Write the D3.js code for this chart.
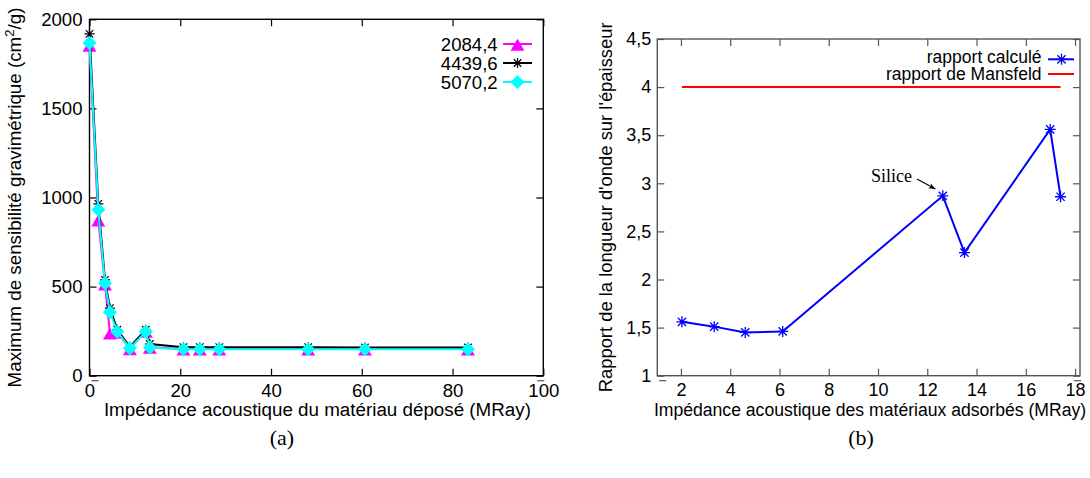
<!DOCTYPE html>
<html><head><meta charset="utf-8">
<script src="https://cdn.jsdelivr.net/npm/d3@7"></script>
<style>
html,body{margin:0;padding:0;background:#fff;}
svg{display:block;}
</style></head>
<body>
<svg id="chart" width="1090" height="478"></svg>
<script>
// ---------- Data: chart (a) ----------
const impedanceA = [0, 1.94, 3.41, 4.5, 6.12, 8.9, 12.4, 13.3, 20.7, 24.3, 28.6, 48.2, 60.7, 83.4];
const series20844 = [1855, 875, 515, 240, 245, 152, 250, 160, 150, 150, 150, 150, 150, 150];
const series44396 = [1918, 964, 538, 379, 258, 162, 258, 178, 160, 160, 160, 160, 158, 158];
const series50702 = [1867, 931, 519, 356, 247, 154, 247, 158, 148, 148, 148, 148, 148, 148];
const seriesNamesA = ["2084,4", "4439,6", "5070,2"];
const xTicksA = [0, 20, 40, 60, 80, 100];
const yTicksA = [0, 500, 1000, 1500, 2000];

// ---------- Data: chart (b) ----------
const impedanceB = [2.04, 3.35, 4.61, 6.13, 12.63, 13.51, 16.99, 17.41];
const rapportCalcule = [1.56, 1.51, 1.45, 1.46, 2.87, 2.28, 3.56, 2.86];
const mansfeldX = [2.04, 17.41];
const mansfeldY = [4, 4];
const seriesNamesB = ["rapport calculé", "rapport de Mansfeld"];
const xTicksB = [2, 4, 6, 8, 10, 12, 14, 16, 18];
const yTicksB = [1, 1.5, 2, 2.5, 3, 3.5, 4, 4.5];
const silice = {label: "Silice", tx: 11.38, ty: 3.01, ax0: 11.58, ay0: 3.045, ax1: 12.33, ay1: 2.94};

const fmtComma = d => String(d).replace(".", ",");
const svg = d3.select("#chart");
const SANS = '"Liberation Sans",Arial,sans-serif';
const SERIF = '"Liberation Serif","DejaVu Serif",serif';

// ---------- marker helpers ----------
function triangle(g, x, y, color){
  const s = 7;
  g.append("path").attr("d", `M${x},${y-s*0.75}L${x+s},${y+s*0.95}L${x-s},${y+s*0.95}Z`).attr("fill", color);
}
function diamond(g, x, y, color){
  const s = 7;
  g.append("path").attr("d", `M${x},${y-s}L${x+s},${y}L${x},${y+s}L${x-s},${y}Z`).attr("fill", color);
}
function star(g, x, y, color, s, w){
  const p = `M${x-s},${y}L${x+s},${y}M${x},${y-s}L${x},${y+s}M${x-s*0.75},${y-s*0.75}L${x+s*0.75},${y+s*0.75}M${x-s*0.75},${y+s*0.75}L${x+s*0.75},${y-s*0.75}`;
  g.append("path").attr("d", p).attr("stroke", color).attr("stroke-width", w).attr("fill", "none");
}
function txt(g, fs, family){
  return g.append("text").style("font-family", family || SANS).style("font-size", fs + "px").attr("fill", "#000");
}

function frameAxes(g, x, y, xt, yt, fmt, frameColor, padX, padY, fs){
  const [x0, x1] = x.range(), [y0, y1] = y.range();
  g.append("g").attr("transform", `translate(0,${y0})`)
    .call(d3.axisBottom(x).tickValues(xt).tickSize(-7).tickSizeOuter(0).tickPadding(padX).tickFormat(fmt))
    .call(a => a.select(".domain").remove());
  g.append("g").attr("transform", `translate(0,${y1})`)
    .call(d3.axisTop(x).tickValues(xt).tickSize(-7).tickSizeOuter(0).tickFormat(""))
    .call(a => a.select(".domain").remove());
  g.append("g").attr("transform", `translate(${x0},0)`)
    .call(d3.axisLeft(y).tickValues(yt).tickSize(-7).tickSizeOuter(0).tickPadding(padY).tickFormat(fmt))
    .call(a => a.select(".domain").remove());
  g.append("g").attr("transform", `translate(${x1},0)`)
    .call(d3.axisRight(y).tickValues(yt).tickSize(-7).tickSizeOuter(0).tickFormat(""))
    .call(a => a.select(".domain").remove());
  g.selectAll(".tick line").attr("stroke", frameColor).attr("stroke-width", 1.2);
  g.selectAll(".tick text").style("font-size", fs + "px").style("font-family", SANS).attr("fill", "#000");
  g.append("rect").attr("x", x0).attr("y", y1).attr("width", x1 - x0).attr("height", y0 - y1)
    .attr("fill", "none").attr("stroke", frameColor).attr("stroke-width", 1.4);
  g.append("line").attr("x1", x0 + 2).attr("x2", x0 + 9).attr("y1", y0 + 5).attr("y2", y0 + 5).attr("stroke", "#555").attr("stroke-width", 1.2);
  g.append("line").attr("x1", x1 - 6).attr("x2", x1 + 1).attr("y1", y0 + 5).attr("y2", y0 + 5).attr("stroke", "#555").attr("stroke-width", 1.2);
}

// ================= Chart (a) =================
{
  const FS = 18.6;
  const g = svg.append("g");
  const x = d3.scaleLinear().domain([0, 100]).range([89.5, 543.3]);
  const y = d3.scaleLinear().domain([0, 2000]).range([375.7, 19.3]);
  frameAxes(g, x, y, xTicksA, yTicksA, d => String(d), "#000", 8, 7, FS);

  const line = d3.line().x(d => x(d[0])).y(d => y(d[1]));
  const sets = [
    {vals: series20844, color: "#ff00ff", mark: "tri"},
    {vals: series44396, color: "#000000", mark: "star"},
    {vals: series50702, color: "#00ffff", mark: "dia"}
  ];
  sets.forEach(s => {
    const pts = impedanceA.map((v, i) => [v, s.vals[i]]);
    g.append("path").attr("d", line(pts)).attr("fill", "none").attr("stroke", s.color).attr("stroke-width", 2);
    pts.forEach(p => {
      const px = x(p[0]), py = y(p[1]);
      if (s.mark === "tri") triangle(g, px, py, s.color);
      else if (s.mark === "dia") diamond(g, px, py, s.color);
      else star(g, px, py, s.color, 5, 1.2);
    });
  });

  const lg = g.append("g");
  const rows = [44, 63, 82];
  sets.forEach((s, i) => {
    txt(lg, FS).attr("x", 497.7).attr("y", rows[i]).attr("dy", "0.35em")
      .attr("text-anchor", "end").text(seriesNamesA[i]);
    lg.append("line").attr("x1", 503).attr("x2", 532).attr("y1", rows[i]).attr("y2", rows[i])
      .attr("stroke", s.color).attr("stroke-width", 2);
    if (s.mark === "tri") triangle(lg, 517.5, rows[i], s.color);
    else if (s.mark === "dia") diamond(lg, 517.5, rows[i], s.color);
    else star(lg, 517.5, rows[i], s.color, 5, 1.2);
  });

  txt(g, 18.8).attr("x", (89.5 + 543.3) / 2 + 1).attr("y", 416).attr("text-anchor", "middle")
    .text("Impédance acoustique du matériau déposé (MRay)");
  const yt = txt(g, 18.8).attr("transform", `translate(21,${(375.7 + 19.3) / 2}) rotate(-90)`)
    .attr("text-anchor", "middle");
  yt.append("tspan").text("Maximum de sensibilité gravimétrique (cm");
  yt.append("tspan").attr("dy", -7).style("font-size", "13px").text("2");
  yt.append("tspan").attr("dy", 7).text("/g)");

  txt(g, 22, SERIF).attr("x", 282).attr("y", 445).attr("text-anchor", "middle").text("(a)");
}

// ================= Chart (b) =================
{
  const FS = 18;
  const g = svg.append("g");
  const x = d3.scaleLinear().domain([1.04, 18.2]).range([657.3, 1080]);
  const y = d3.scaleLinear().domain([1, 4.5]).range([375.7, 39]);
  frameAxes(g, x, y, xTicksB, yTicksB, fmtComma, "#555", 8, 6, FS);

  const line = d3.line().x(d => x(d[0])).y(d => y(d[1]));
  g.append("path").attr("d", line(mansfeldX.map((v, i) => [v, mansfeldY[i]])))
    .attr("fill", "none").attr("stroke", "#ff0000").attr("stroke-width", 2);
  const pts = impedanceB.map((v, i) => [v, rapportCalcule[i]]);
  g.append("path").attr("d", line(pts)).attr("fill", "none").attr("stroke", "#0000ff").attr("stroke-width", 2);
  pts.forEach(p => star(g, x(p[0]), y(p[1]), "#0000ff", 5.5, 1.3));

  const rows = [59.3, 74];
  txt(g, 17.5).attr("x", 1041.6).attr("y", rows[0] - 1.5).attr("dy", "0.3em").attr("text-anchor", "end").text(seriesNamesB[0]);
  g.append("line").attr("x1", 1048).attr("x2", 1074).attr("y1", rows[0]).attr("y2", rows[0])
    .attr("stroke", "#0000ff").attr("stroke-width", 2);
  star(g, 1061.5, rows[0], "#0000ff", 5.5, 1.3);
  txt(g, 17.5).attr("x", 1041.6).attr("y", rows[1] + 0.5).attr("dy", "0.3em").attr("text-anchor", "end").text(seriesNamesB[1]);
  g.append("line").attr("x1", 1048).attr("x2", 1074).attr("y1", rows[1]).attr("y2", rows[1])
    .attr("stroke", "#ff0000").attr("stroke-width", 2);

  g.append("defs").append("marker").attr("id", "arr").attr("viewBox", "0 0 10 10")
    .attr("refX", 10).attr("refY", 5).attr("markerWidth", 7).attr("markerHeight", 7)
    .attr("markerUnits", "userSpaceOnUse").attr("orient", "auto")
    .append("path").attr("d", "M0,1L10,5L0,9L3,5Z").attr("fill", "#000");
  g.append("line").attr("x1", x(silice.ax0)).attr("y1", y(silice.ay0))
    .attr("x2", x(silice.ax1)).attr("y2", y(silice.ay1))
    .attr("stroke", "#000").attr("stroke-width", 1.1).attr("marker-end", "url(#arr)");
  txt(g, 18, SERIF).attr("x", x(silice.tx)).attr("y", y(silice.ty)).attr("text-anchor", "end").text(silice.label);

  txt(g, 17.6).attr("x", 870).attr("y", 416).attr("text-anchor", "middle")
    .text("Impédance acoustique des matériaux adsorbés (MRay)");
  txt(g, 18.4).attr("transform", `translate(612,${(375.7 + 39) / 2}) rotate(-90)`)
    .attr("text-anchor", "middle").text("Rapport de la longueur d'onde sur l'épaisseur");

  txt(g, 22, SERIF).attr("x", 861).attr("y", 445).attr("text-anchor", "middle").text("(b)");
}
</script>
</body></html>
